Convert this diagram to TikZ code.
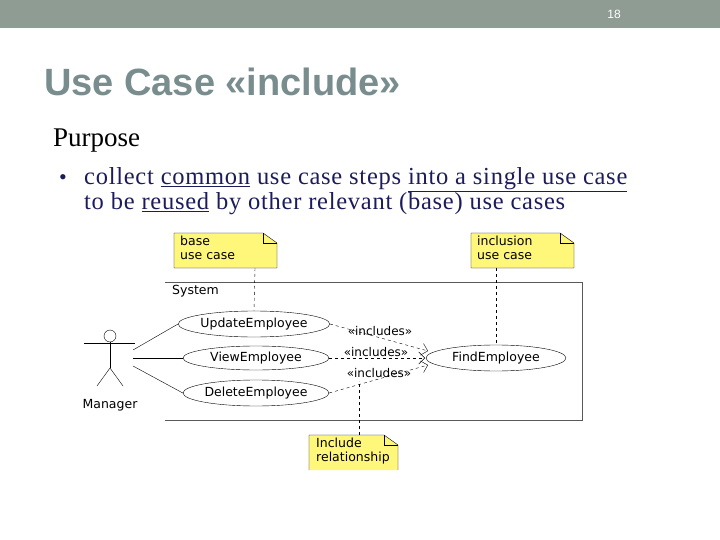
\documentclass[tikz,border=0pt]{standalone}
\usepackage{fontspec}
\setmainfont{Liberation Serif}
\newfontfamily\dvs{DejaVu Sans}
\newfontfamily\lib{Liberation Sans}
\newfontfamily\bodyf[LetterSpace=3]{Liberation Serif}
\usetikzlibrary{arrows.meta,shapes.geometric}
\definecolor{hdr}{HTML}{8F9C93}
\definecolor{ttl}{HTML}{798D8E}
\definecolor{txt}{HTML}{1C1C5C}
\definecolor{notey}{HTML}{FFF77A}
\tikzset{
 uc/.style={draw, ellipse, minimum width=146pt, minimum height=25pt, inner sep=0pt, font=\dvs\fontsize{12.5}{14}\selectfont},
 inc/.style={dashed, -{Straight Barb[length=6pt,width=12pt]}},
 lbl/.style={font=\dvs\fontsize{12}{13}\selectfont, inner sep=0pt},
 ntxt/.style={anchor=north west, align=left, font=\dvs\fontsize{12.5}{14}\selectfont, inner sep=0pt},
 body/.style={anchor=base west, text=txt, font=\bodyf\fontsize{24.5}{26}\selectfont, inner sep=0pt}
}
\begin{document}
\begin{tikzpicture}[x=1pt,y=-1pt]
\path[use as bounding box] (0,0) rectangle (720,540);
\fill[hdr] (0,0) rectangle (720,28);
\node[text=white, font=\lib\fontsize{12}{13}\selectfont] (pg) at (614,14) {18};
\node[anchor=base west, text=ttl, font=\lib\bfseries\fontsize{38}{40}\selectfont, inner sep=0pt] (title) at (44,96) {Use Case «include»};
\node[anchor=base west, text=black, font=\fontsize{27}{30}\selectfont, inner sep=0pt] (purp) at (53,147) {Purpose};
\node[anchor=base west, text=txt, font=\fontsize{22}{26}\selectfont, inner sep=0pt] (b) at (59,185) {•};
\node[body] (l1) at (84,185) {collect \underline{common} use case steps \underline{into a single use case}};
\node[body] (l2) at (84,210) {to be \underline{reused} by other relevant (base) use cases};
% system
\draw[gray!70!black] (165,282) -- (582,282) -- (582,420) -- (165,420);
\node[anchor=north west, font=\dvs\fontsize{12.5}{14}\selectfont, inner sep=0pt] (sys) at (172,285) {System};
% notes
\newcommand\notebox[2]{%
 \fill[notey] (#1,#2) -- ++(89,0) -- ++(14,10) -- ++(0,25) -- ++(-103,0) -- cycle;
 \draw (#1,#2+35) -- (#1,#2) -- ++(89,0) -- ++(14,10) -- ++(0,25) -- cycle;
 \draw (#1+89,#2) -- ++(0,10) -- ++(14,0);}
\notebox{174}{233}
\node[ntxt] (n1) at (180,236) {base\\use case};
\notebox{471}{233}
\node[ntxt] (n2) at (477,236) {inclusion\\use case};
\fill[notey] (309,435) -- ++(75,0) -- ++(14,10) -- (398,470) -- (309,470) -- cycle;
\draw (309,470) -- (309,435) -- ++(75,0) -- ++(14,10) -- (398,470);
\draw (384,435) -- ++(0,10) -- ++(14,0);
\node[ntxt] (n3) at (316,438) {Include\\relationship};
% use cases
\node[uc, minimum height=26pt] (upd) at (254,324) {UpdateEmployee};
\node[uc, minimum height=24pt] (view) at (256,358) {ViewEmployee};
\node[uc, minimum height=26pt] (del) at (256,393) {DeleteEmployee};
\node[uc, minimum width=140pt, minimum height=26pt] (find) at (496,358) {FindEmployee};
% actor
\draw (110,336) circle (6);
\draw (84,343) -- (135,343);
\draw (110,342) -- (110,368) coordinate (hip);
\draw (97,386) -- (hip) -- (123,386);
\node[font=\dvs\fontsize{12.5}{14}\selectfont] (mgr) at (110,405) {Manager};
\coordinate (a1) at (133,350);
\coordinate (a2) at (133,358);
\coordinate (a3) at (133,366);
\draw (a1) -- (upd.west);
\draw (a2) -- (view.west);
\draw (a3) -- (del.west);
% includes
\coordinate (f1) at (428,351);
\coordinate (f2) at (425,358);
\coordinate (f3) at (428,365);
\draw[inc] (upd.east) -- (f1);
\draw[inc] (view.east) -- (f2);
\draw[inc] (del.east) -- (f3);
\node[lbl] (i1) at (380,331) {«includes»};
\node[lbl] (i2) at (376,352) {«includes»};
\node[lbl] (i3) at (379,373) {«includes»};
% note links
\draw[dashed] (255,268) -- (upd.north);
\draw[dashed] (496,268) -- (find.north);
\coordinate (r) at (359,381);
\draw[dashed] (359,435) -- (r);
\end{tikzpicture}
\end{document}
